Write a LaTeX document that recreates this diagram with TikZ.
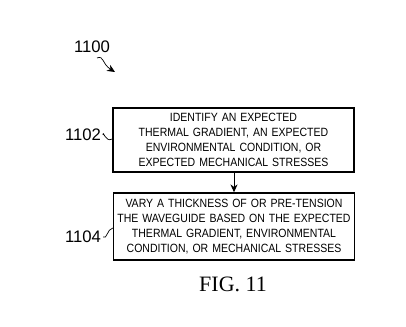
\documentclass[tikz,border=0pt]{standalone}
\usepackage{fontspec}
\setmainfont{Liberation Sans}
\newfontfamily\boxfont[FakeStretch=0.88]{Liberation Sans}
\newfontfamily\figfont{Liberation Serif}
\usetikzlibrary{positioning}
\usetikzlibrary{arrows.meta}

\begin{document}
\begin{tikzpicture}[
    x=0.02cm, y=-0.02cm,
    stepbox/.style={rectangle, draw, thick, text width=4.72cm, align=center,
        font=\boxfont\fontsize{6.8}{8.6}\selectfont, inner xsep=0.05cm, inner ysep=2pt},
    reflabel/.style={font=\fontsize{9.5}{10}\selectfont, inner sep=1pt},
    arrow/.style={-{Stealth[length=4.5pt,width=4pt]}, thin}
]
    \useasboundingbox (0,0) rectangle (406,327);

    % The two steps
    \node[stepbox, minimum height=1.28cm] (identify) at (233.5,140) {IDENTIFY AN EXPECTED\\THERMAL GRADIENT, AN EXPECTED\\ENVIRONMENTAL CONDITION, OR\\EXPECTED MECHANICAL STRESSES};
    \node[stepbox, minimum height=1.34cm] (vary) at (234,226.5) {VARY A THICKNESS OF OR PRE-TENSION\\THE WAVEGUIDE BASED ON THE EXPECTED\\THERMAL GRADIENT, ENVIRONMENTAL\\CONDITION, OR MECHANICAL STRESSES};

    % Reference numerals
    \node[reflabel] (l1100) at (92,47) {1100};
    \node[reflabel] (l1102) at (83,135) {1102};
    \node[reflabel] (l1104) at (83,237) {1104};
    \coordinate (tip1100) at (115,72);

    % Connections
    \draw[arrow] (identify.south -| vary.north) -- (vary.north);
    \draw[arrow] (97,58) .. controls (104,55) and (102,64) .. (tip1100);
    \draw[thin] (l1102.east) .. controls (103,129) and (105,143) .. (identify.west |- 0,139);
    \draw[thin] (l1104.east) .. controls (107,240) and (107,229) .. (vary.west |- 0,228);

    % Caption
    \node[font=\figfont\fontsize{12.5}{14}\selectfont] (caption) at (233,284) {FIG. 11};
\end{tikzpicture}
\end{document}
